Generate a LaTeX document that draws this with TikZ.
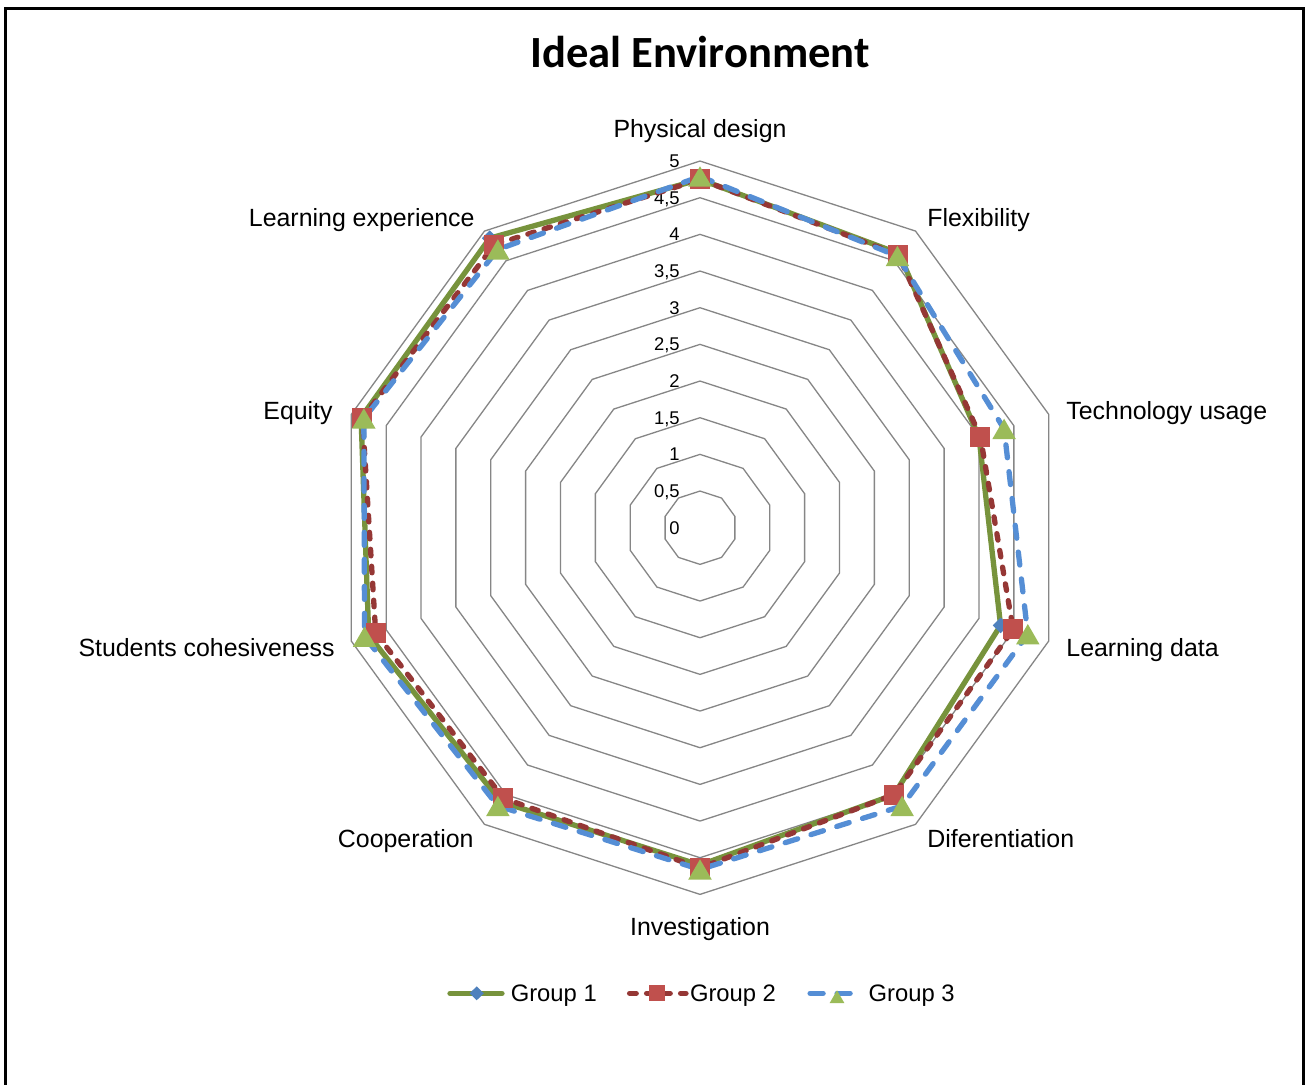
\documentclass[tikz,border=0pt]{standalone}
\usepackage{fontspec}
\setmainfont{Liberation Sans}
\newfontfamily\titlefont{Carlito}
\usetikzlibrary{shapes.geometric}
\definecolor{gOneLine}{RGB}{119,147,60}
\definecolor{gOneMark}{RGB}{79,129,189}
\definecolor{gTwoLine}{RGB}{149,55,53}
\definecolor{gTwoMark}{RGB}{192,80,77}
\definecolor{gThreeLine}{RGB}{85,142,213}
\definecolor{gThreeMark}{RGB}{155,187,89}
\definecolor{gridgray}{RGB}{134,134,134}
\begin{document}
\begin{tikzpicture}[x=0.5pt,y=-0.5pt,
  gridring/.style={draw=gridgray,line width=0.65pt,line join=miter},
  border/.style={draw=black,line width=1.5pt},
  axislabel/.style={inner sep=0pt,font=\fontsize{12.45}{15}\selectfont},
  ticklabel/.style={inner sep=0pt,anchor=base east,font=\fontsize{9.2}{11}\selectfont},
  legendtext/.style={inner sep=0pt,anchor=base west,font=\fontsize{11.9}{14}\selectfont},
  seriesOne/.style={draw=gOneLine,line width=2.65pt,line join=round,line cap=round},
  seriesTwo/.style={draw=gTwoLine,line width=2.65pt,line join=round,line cap=round,dash pattern=on 3.3pt off 5.2pt},
  seriesThree/.style={draw=gThreeLine,line width=2.65pt,line join=round,line cap=round,dash pattern=on 6.5pt off 7pt},
  markOne/.style={diamond,fill=gOneMark,inner sep=0pt,minimum width=8pt,minimum height=8pt},
  markTwo/.style={rectangle,fill=gTwoMark,inner sep=0pt,minimum size=10pt},
  markThree/.style={regular polygon,regular polygon sides=3,fill=gThreeMark,inner sep=0pt,minimum size=13.6pt,yshift=-1.7pt},
  legmarkOne/.style={markOne,minimum width=7.3pt,minimum height=7.1pt},
  legmarkTwo/.style={markTwo,minimum size=8pt},
  legmarkThree/.style={markThree,minimum size=8.6pt,yshift=-1.1pt}
]
\useasboundingbox (0,0) rectangle (1306,1084);
\fill[white] (0,0) rectangle (1306,1084);
\draw[border] (5.3,1100) -- (5.3,8.5) -- (1303.5,8.5) -- (1303.5,1100);

% title
\node[anchor=base,inner sep=0pt,font=\titlefont\bfseries\fontsize{22.3}{26}\selectfont] (title) at (700,67.5) {Ideal Environment};

% grid rings
\foreach \r in {1,...,10}{
  \draw[gridring] (700,{527.7-36.667*\r})
    \foreach \k in {1,...,9}{ -- ({700+36.667*\r*cos(90-36*\k)},{527.7-36.667*\r*sin(90-36*\k)}) } -- cycle;
}

% tick labels
\foreach \k/\lab in {0/0,1/{0,5},2/1,3/{1,5},4/2,5/{2,5},6/3,7/{3,5},8/4,9/{4,5},10/5}{
  \node[ticklabel] (tick\k) at (680,{527.7-36.667*\k+6.6}) {\lab};
}

% axis labels
\node[axislabel,anchor=base] (lab0) at (700,137) {Physical design};
\node[axislabel,anchor=base west] (lab1) at (927,226) {Flexibility};
\node[axislabel,anchor=base west] (lab2) at (1066,419) {Technology usage};
\node[axislabel,anchor=base west] (lab3) at (1066,656) {Learning data};
\node[axislabel,anchor=base west] (lab4) at (927,847) {Diferentiation};
\node[axislabel,anchor=base] (lab5) at (700,935) {Investigation};
\node[axislabel,anchor=base east] (lab6) at (474,847) {Cooperation};
\node[axislabel,anchor=base east] (lab7) at (335,656) {Students cohesiveness};
\node[axislabel,anchor=base east] (lab8) at (333,419) {Equity};
\node[axislabel,anchor=base east] (lab9) at (475,226) {Learning experience};

% data points
\foreach \v [count=\k from 0] in {4.75,4.62,4.0,4.31,4.5,4.6,4.62,4.75,4.86,4.88}{
  \coordinate (a\k) at ({700+73.33*\v*cos(90-36*\k)},{527.7-73.33*\v*sin(90-36*\k)});
}
\foreach \v [count=\k from 0] in {4.75,4.6,4.02,4.49,4.5,4.64,4.56,4.65,4.84,4.77}{
  \coordinate (b\k) at ({700+73.33*\v*cos(90-36*\k)},{527.7-73.33*\v*sin(90-36*\k)});
}
\foreach \v [count=\k from 0] in {4.79,4.58,4.36,4.7,4.69,4.66,4.69,4.81,4.82,4.69}{
  \coordinate (c\k) at ({700+73.33*\v*cos(90-36*\k)},{527.7-73.33*\v*sin(90-36*\k)});
}

% series lines
\draw[seriesOne] (a0)--(a1)--(a2)--(a3)--(a4)--(a5)--(a6)--(a7)--(a8)--(a9)--cycle;
\draw[seriesTwo] (b0)--(b1)--(b2)--(b3)--(b4)--(b5)--(b6)--(b7)--(b8)--(b9)--cycle;
\draw[seriesThree] (c0)--(c1)--(c2)--(c3)--(c4)--(c5)--(c6)--(c7)--(c8)--(c9)--cycle;

% markers
\foreach \k in {0,...,9}{ \node[markOne] (ma\k) at (a\k) {}; }
\foreach \k in {0,...,9}{ \node[markTwo] (mb\k) at (b\k) {}; }
\foreach \k in {0,...,9}{ \node[markThree] (mc\k) at (c\k) {}; }

% legend
\coordinate (l1s) at (450,993.3); \coordinate (l1e) at (502,993.3);
\coordinate (l2s) at (629.6,993.3); \coordinate (l2e) at (686,993.3);
\coordinate (l3s) at (810.1,993.3); \coordinate (l3e) at (862,993.3);
\draw[seriesOne] (l1s) -- (l1e);
\draw[seriesTwo] (l2s) -- (l2e);
\draw[seriesThree] (l3s) -- (l3e);
\node[legmarkOne] (lm1) at (476.7,993.3) {};
\node[legmarkTwo] (lm2) at (656.6,993.3) {};
\node[legmarkThree] (lm3) at (837,993.3) {};
\node[legendtext] (lt1) at (510.4,1001.6) {Group 1};
\node[legendtext] (lt2) at (689.6,1001.6) {Group 2};
\node[legendtext] (lt3) at (868.2,1001.6) {Group 3};
\end{tikzpicture}
\end{document}
